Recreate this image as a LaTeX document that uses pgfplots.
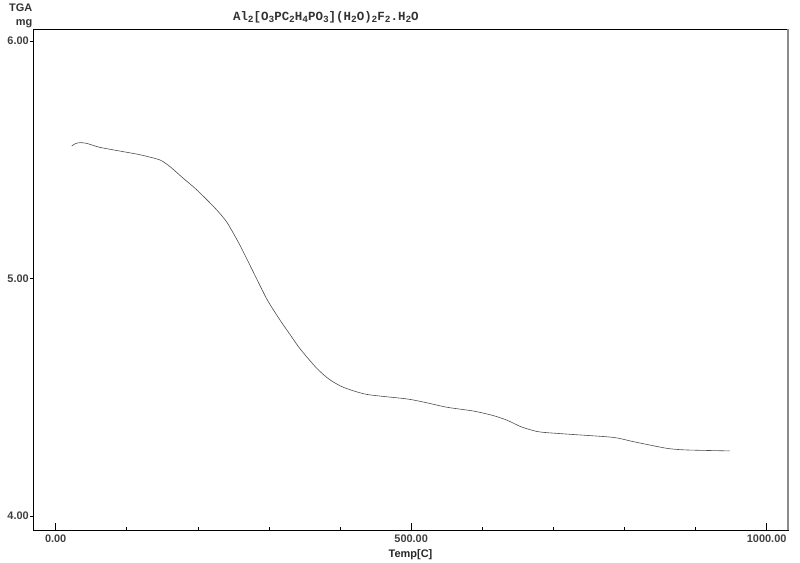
\documentclass[border=0pt]{standalone}
\usepackage{fontspec}
\setmainfont{Liberation Sans}
\newfontfamily\titlefont{Liberation Mono}
\usepackage{pgfplots}
\pgfplotsset{compat=1.18}
\newcommand{\sub}[1]{\raisebox{-0.25ex}{\fontsize{9.5}{9.5}\selectfont #1}}

\begin{document}
\begin{tikzpicture}
\begin{axis}[
  scale only axis,
  width=755bp, height=501bp,
  xmin=-31.9, xmax=1030,
  ymin=3.941, ymax=6.0505,
  clip=false,
  axis line style={black, line width=0.8pt},
  tick pos=left,
  tick align=inside,
  xtick={0,500,1000},
  minor xtick={100,200,300,400,600,700,800,900},
  ytick=\empty,
  minor ytick={4.2,4.4,4.6,4.8,5.2,5.4,5.6,5.8},
  extra y ticks={4,5,6},
  extra y tick style={tick align=outside, major tick length=3bp},
  major tick length=7bp,
  minor tick length=3bp,
  tick style={black, line width=0.6pt},
  ticklabel style={font=\fontsize{11}{11}\selectfont\bfseries, text=black!75},
  yticklabel style={inner sep=1pt},
  xticklabel style={yshift=-1bp},
  /pgf/number format/fixed,
  /pgf/number format/fixed zerofill,
  /pgf/number format/precision=2,
  /pgf/number format/1000 sep={},
  /pgf/number format/assume math mode=true,
  xlabel={Temp[C]},
  xlabel style={font=\fontsize{11}{11}\selectfont\bfseries, text=black!85, yshift=0bp},
]
\addplot[black!70, line width=0.6pt, smooth, tension=0.4] coordinates {
(22.5,5.558) (28,5.568) (34.2,5.572) (43.6,5.569) (62.3,5.552) (95.1,5.534)
(118.6,5.521) (146.7,5.499) (162,5.468) (179,5.423) (196,5.380) (212.8,5.331)
(227,5.287) (241,5.236) (259.2,5.140) (277.5,5.030) (297.2,4.912) (315.5,4.825)
(332.4,4.752) (343.7,4.704) (367.1,4.622) (385,4.575) (404.5,4.542) (437.4,4.512)
(493.7,4.493) (520,4.478) (549.9,4.458) (587.3,4.442) (614,4.424) (634.3,4.404)
(655,4.375) (676.5,4.356) (690.6,4.351) (723.4,4.344) (784.2,4.331) (812.4,4.313)
(859.3,4.285) (887.5,4.278) (948.4,4.274)
};
\draw[black!45, line width=2bp] (rel axis cs:1,0) -- (rel axis cs:1,1);
\node[anchor=base, font=\titlefont\fontsize{12.5}{12.5}\selectfont\bfseries, text=black!80]
  at (axis cs:380,6.085) {Al\sub{2}[O\sub{3}PC\sub{2}H\sub{4}PO\sub{3}](H\sub{2}O)\sub{2}F\sub{2}.H\sub{2}O};
\node[anchor=base east, inner sep=0pt, font=\fontsize{11}{11}\selectfont\bfseries, text=black!80]
  at (axis cs:-32.6,6.126) {TGA};
\node[anchor=base east, inner sep=0pt, font=\fontsize{11}{11}\selectfont\bfseries, text=black!80]
  at (axis cs:-32.6,6.067) {mg};
\end{axis}
\path ([shift={(-33bp,-33bp)}]current axis.south west) rectangle ([shift={(12bp,29bp)}]current axis.north east);
\end{tikzpicture}
\end{document}
